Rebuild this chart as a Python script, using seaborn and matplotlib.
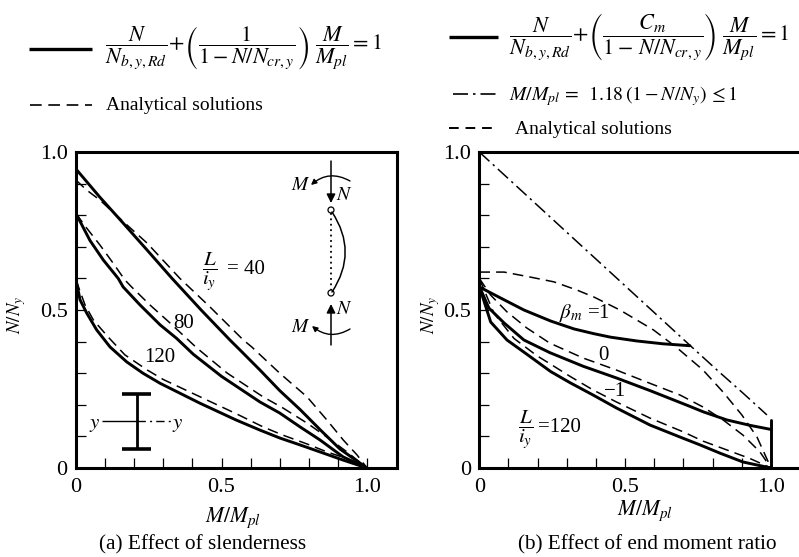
import matplotlib
matplotlib.use("Agg")
import matplotlib.pyplot as plt
from matplotlib.patches import FancyArrowPatch, Circle
import seaborn as sns

# ---- data: (a) effect of slenderness
m40_solid = [0, .082, .162, .244, .33, .43, .529, .564, .63, .70, .77, .838, .907, 1.0]
n40_solid = [.946, .857, .775, .69, .60, .50, .405, .373, .312, .245, .185, .122, .06, 0]
m40_dash = [0, .036, .082, .162, .244, .357, .46, .575, .604, .70, .794, .862, .918, .966, 1.0]
n40_dash = [.911, .88, .848, .78, .712, .60, .51, .405, .383, .30, .225, .152, .089, .041, 0]
m80_solid = [0, .048, .094, .145, .162, .22, .289, .346, .403, .50, .632, .70, .77, .838, .918, 1.0]
n80_solid = [.805, .72, .658, .60, .573, .516, .453, .41, .36, .29, .209, .174, .13, .089, .035, 0]
m80_dash = [0, .036, .082, .127, .168, .191, .254, .323, .415, .52, .643, .711, .794, .862, .931, 1.0]
n80_dash = [.805, .76, .706, .649, .595, .573, .516, .459, .38, .30, .225, .19, .142, .098, .051, 0]
m120_solid = [0, .014, .037, .071, .117, .174, .23, .289, .426, .55, .632, .70, .77, .838, .918, 1.0]
n120_solid = [.595, .532, .49, .437, .383, .336, .30, .268, .205, .152, .12, .095, .073, .051, .025, 0]
m120_dash = [0, .031, .06, .11, .168, .245, .30, .45, .55, .643, .711, .794, .862, .93, 1.0]
n120_dash = [.595, .516, .468, .415, .358, .31, .28, .215, .172, .13, .104, .076, .051, .03, 0]

# ---- (b) effect of end moment ratio
m_b1_solid = [0, .073, .153, .245, .325, .393, .45, .54, .63, .722]
n_b1_solid = [.573, .538, .50, .465, .44, .425, .414, .402, .393, .387]
m_b0_solid = [0, .033, .085, .153, .242, .356, .47, .585, .722, .767, .849, .928, 1.0]
n_b0_solid = [.575, .506, .459, .405, .365, .322, .285, .245, .195, .178, .152, .135, .122]
m_bm1_solid = [0, .039, .095, .163, .245, .311, .39, .47, .585, .688, .757, .825, .904, 1.0]
n_bm1_solid = [.575, .462, .405, .36, .305, .27, .231, .19, .136, .098, .073, .047, .019, 0]
m_b1_dash = [0, .085, .176, .256, .335, .393, .482, .597, .677, .767, .836, .90, .952, 1.0]
n_b1_dash = [.62, .62, .604, .589, .563, .541, .50, .437, .381, .31, .24, .168, .098, 0]
m_b0_dash = [0, .039, .095, .163, .242, .356, .47, .585, .688, .767, .836, .904, .962, 1.0]
n_b0_dash = [.60, .547, .494, .443, .395, .348, .31, .268, .231, .193, .152, .104, .051, 0]
m_bm1_dash = [0, .05, .119, .198, .242, .311, .39, .47, .585, .70, .767, .849, .928, 1.0]
n_bm1_dash = [.60, .49, .41, .355, .33, .29, .247, .209, .158, .114, .085, .057, .03, 0]
m_limit = [0, .72, .815, .904, .986]
n_limit = [1.0, .39, .31, .237, .168]
m_wall = [1.0, 1.0]
n_wall = [.152, 0]

x_ticks = [i / 10 for i in range(11)]
y_ticks = [i / 10 for i in range(11)]
x_tick_labels = ["0", "", "", "", "", "0.5", "", "", "", "", "1.0"]
y_tick_labels = ["0", "", "", "", "", "0.5", "", "", "", "", "1.0"]

sns.set_theme(style="ticks")
plt.rcParams["font.family"] = ["Liberation Serif", "DejaVu Serif"]
plt.rcParams["mathtext.fontset"] = "stix"

W, H = 799, 557
fig = plt.figure(figsize=(W / 100, H / 100), dpi=100, facecolor="white")


def make_axes(x0, x1, y0, y1):
    return fig.add_axes([x0 / W, 1 - y1 / H, (x1 - x0) / W, (y1 - y0) / H])


def style(ax, xmax, right):
    ax.set_xlim(0, xmax)
    ax.set_ylim(0, 1)
    ax.set_xticks(x_ticks, x_tick_labels)
    ax.set_yticks(y_ticks, y_tick_labels)
    ax.tick_params(direction="in", length=7, width=0.9, labelsize=16, colors="black")
    ax.tick_params(axis="x", pad=7)
    ax.tick_params(axis="y", pad=6)
    ax.set_xlabel("")
    ax.set_ylabel("")
    for sp in ax.spines.values():
        sp.set_linewidth(2.2)
        sp.set_color("black")
    ax.spines["right"].set_visible(right)
    ax.set_facecolor("white")


def curve(ax, xs, ys, ls, lw):
    sns.lineplot(x=xs, y=ys, ax=ax, color="black", linewidth=lw, linestyle=ls,
                 estimator=None, sort=False, errorbar=None)


DASH = (0, (7, 4))
DD = (0, (9, 3, 1.5, 3))
SOL = 2.1
THIN = 1.1

ax1 = make_axes(76, 397, 152, 468)
for xs, ys in [(m40_solid, n40_solid), (m80_solid, n80_solid), (m120_solid, n120_solid)]:
    curve(ax1, xs, ys, "-", SOL)
for xs, ys in [(m40_dash, n40_dash), (m80_dash, n80_dash), (m120_dash, n120_dash)]:
    curve(ax1, xs, ys, DASH, THIN)
style(ax1, 1.103, True)

ax2 = make_axes(479.3, 799, 152, 468)
for xs, ys in [(m_b1_solid, n_b1_solid), (m_b0_solid, n_b0_solid), (m_bm1_solid, n_bm1_solid), (m_wall, n_wall)]:
    curve(ax2, xs, ys, "-", SOL)
for xs, ys in [(m_b1_dash, n_b1_dash), (m_b0_dash, n_b0_dash), (m_bm1_dash, n_bm1_dash)]:
    curve(ax2, xs, ys, DASH, THIN)
curve(ax2, m_limit, n_limit, DD, THIN)
style(ax2, 1.096, False)

# overlay in pixel coordinates for legend keys, labels and the schematics
ov = fig.add_axes([0, 0, 1, 1], facecolor="none")
ov.set_xlim(0, W)
ov.set_ylim(H, 0)
ov.axis("off")


def T(x, y, s, size=14, ha="left", va="center", **kw):
    ov.text(x, y, s, fontsize=size, ha=ha, va=va, color="black", **kw)


def L(xs, ys, ls="-", lw=1.0):
    ov.plot(xs, ys, color="black", linestyle=ls, linewidth=lw, solid_capstyle="butt")


# legends
L([29, 92], [49, 49], "-", 2.4)
L([30, 92], [105, 105], (0, (7, 4)), 1.2)
T(105, 48, r"$\dfrac{N}{N_{b,y,Rd}}\!+\!\left(\dfrac{1}{1-N/N_{cr,y}}\right)\;\dfrac{M}{M_{pl}}=1$", 16)
T(106, 105, "Analytical solutions", 14)

L([449, 498], [37, 37], "-", 2.4)
L([453, 498], [94, 94], DD, 1.2)
L([449, 498], [128, 128], (0, (5, 3.5)), 1.4)
T(509, 36, r"$\dfrac{N}{N_{b,y,Rd}}\!+\!\left(\dfrac{C_m}{1-\,N/N_{cr,y}}\right)\;\dfrac{M}{M_{pl}}=1$", 16)
T(509, 96, r"$M/M_{pl}\,=\,\ 1.18\,(1-N/N_y)\,\leq 1$", 14.2)
T(515, 129, "Analytical solutions", 14)

# axis titles and captions
T(233, 518, r"$M/M_{pl}$", 15.5, ha="center")
T(645, 511, r"$M/M_{pl}$", 15.5, ha="center")
T(17, 315, r"$N/N_y$", 13.5, ha="center", rotation=90)
T(431, 315, r"$N/N_y$", 13.5, ha="center", rotation=90)
T(203, 545, "(a) Effect of slenderness", 15.3, ha="center")
T(647, 545, "(b) Effect of end moment ratio", 15.2, ha="center")

# curve labels
T(202, 272, r"$\dfrac{L}{i_y}$", 15)
T(227, 269, "= 40", 15)
T(184, 323, "80", 15, ha="center")
T(160, 357, "120", 15, ha="center")
T(585, 313, r"$\beta_m$ =1", 15, ha="center")
T(603, 355, "0", 15, ha="center")
T(615, 392, "−1", 15, ha="center")
T(518, 430, r"$\dfrac{L}{i_y}$", 15)
T(538, 428, "=120", 15)

# column schematic
for a, b in [((331, 161), (331, 203)), ((331, 345), (331, 304))]:
    ov.add_patch(FancyArrowPatch(a, b, arrowstyle="-|>", mutation_scale=13, color="black", lw=1.1, shrinkA=0, shrinkB=0))
ov.add_patch(FancyArrowPatch((350, 181), (311, 185), connectionstyle="arc3,rad=0.35", arrowstyle="-|>",
                             mutation_scale=8, color="black", lw=1.0, shrinkA=0, shrinkB=0))
ov.add_patch(FancyArrowPatch((350, 329), (312, 326), connectionstyle="arc3,rad=-0.35", arrowstyle="-|>",
                             mutation_scale=8, color="black", lw=1.0, shrinkA=0, shrinkB=0))
ov.add_patch(FancyArrowPatch((332, 212), (332, 292), connectionstyle="arc3,rad=-0.33", arrowstyle="-",
                             color="black", lw=1.1, shrinkA=0, shrinkB=0))
L([331, 331], [213, 290], (0, (1, 2)), 1.3)
for cy in (210, 293):
    ov.add_patch(Circle((331, cy), 3, fill=False, ec="black", lw=0.9))
T(301, 186, r"$M$", 14, ha="center")
T(301, 327, r"$M$", 14, ha="center")
T(344, 195, r"$N$", 14, ha="center")
T(344, 310, r"$N$", 14, ha="center")

# I-section
L([137, 137], [394, 449], "-", 2.0)
L([122, 151], [394, 394], "-", 2.6)
L([122, 151], [449, 449], "-", 2.6)
L([102, 137], [421, 421], "-", 1.0)
L([137, 172], [421, 421], (0, (6, 3, 1.5, 3)), 1.0)
T(95, 424, r"$y$", 15, ha="center")
T(178, 424, r"$y$", 15, ha="center")

fig.savefig("out.png", dpi=100, facecolor="white")
